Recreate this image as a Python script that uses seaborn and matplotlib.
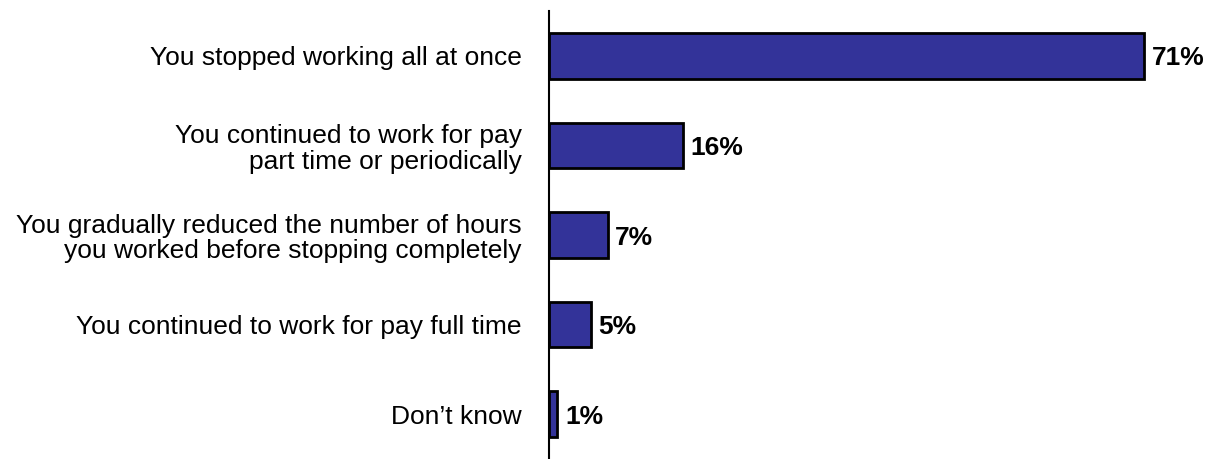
import matplotlib
matplotlib.use("Agg")
import matplotlib.pyplot as plt
import seaborn as sns
import pandas as pd

# Survey answers and shares (%)
categories = [
    "You stopped working all at once",
    "You continued to work for pay\npart time or periodically",
    "You gradually reduced the number of hours\nyou worked before stopping completely",
    "You continued to work for pay full time",
    "Don\u2019t know",
]
values = [71, 16, 7, 5, 1]

sns.set_theme(style="white")
plt.rcParams['font.family'] = ['Liberation Sans', 'DejaVu Sans']

df = pd.DataFrame({'answer': categories, 'pct': values})

fig = plt.figure(figsize=(12.17, 4.59), dpi=100)
ax = fig.add_axes([549 / 1217, 0.0, 1 - 549 / 1217 - 0.005, 1 - 11 / 459])

sns.barplot(data=df, x='pct', y='answer', orient='h', color='#333399',
            saturation=1, width=0.51, edgecolor='black', linewidth=2, ax=ax)

for i, v in enumerate(values):
    ax.text(v + 0.9, i + 0.03, f'{v}%', va='center', ha='left',
            fontsize=19, fontweight='bold', color='black')

ax.set_xlim(0, 79)
ax.set_ylim(4.5, -0.5)
ax.set_xlabel('')
ax.set_ylabel('')
ax.set_xticks([])
ax.tick_params(axis='y', length=0, pad=19.5, labelsize=19)
for lbl in ax.get_yticklabels():
    lbl.set_horizontalalignment('right')
    lbl.set_multialignment('right')
    lbl.set_linespacing(1.1)
    lbl.set_color('black')
for side in ['top', 'right', 'bottom']:
    ax.spines[side].set_visible(False)
ax.spines['left'].set_color('black')
ax.spines['left'].set_linewidth(1.5)

fig.savefig('out.png', dpi=100, facecolor='white')
